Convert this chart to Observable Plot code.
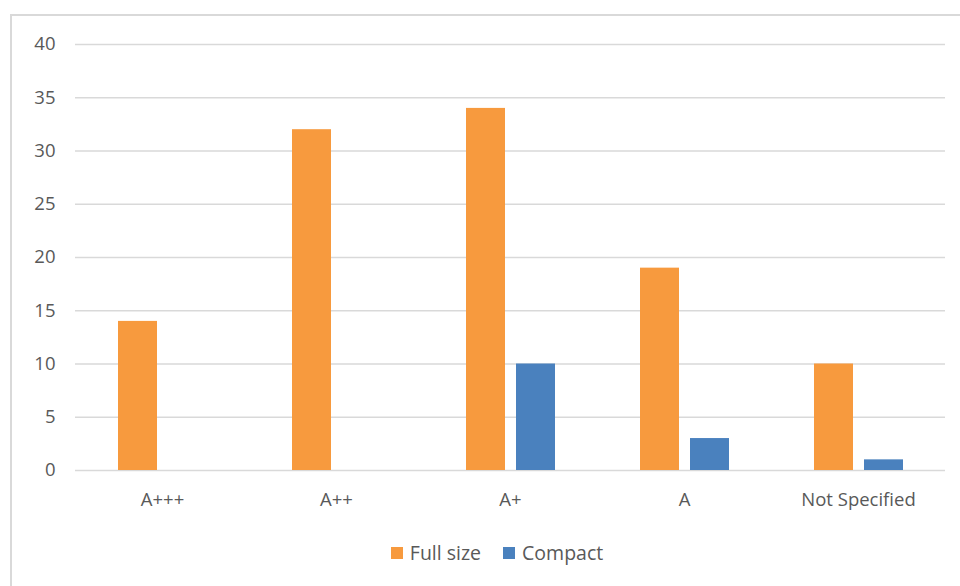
<!DOCTYPE html>
<html>
<head>
<meta charset="utf-8">
<script src="https://cdn.jsdelivr.net/npm/d3@7"></script>
<script src="https://cdn.jsdelivr.net/npm/@observablehq/plot@0.6"></script>
<style>
  html, body { margin: 0; padding: 0; background: #fff; width: 960px; height: 586px; overflow: hidden; }
  #frame { position: absolute; left: 10px; top: 14px; width: 960px; height: 600px; border-left: 2px solid #d9d9d9; border-top: 2px solid #d9d9d9; box-sizing: border-box; pointer-events: none; }
  #chart { position: absolute; left: 0; top: 0; }
  #legend { position: absolute; left: 0; top: 539px; width: 994px; display: flex; justify-content: center; gap: 22px; font-family: "Open Sans", "Noto Sans", sans-serif; font-size: 19.5px; color: #595959; }
  .item { display: flex; align-items: center; gap: 7px; }
  .sw { width: 12px; height: 12px; display: inline-block; }
</style>
</head>
<body>
<div id="chart"></div>
<div id="legend"></div>
<div id="frame"></div>
<script>
const categories = ["A+++", "A++", "A+", "A", "Not Specified"];
const seriesNames = ["Full size", "Compact"];
const fullSize = [14, 32, 34, 19, 10];
const compact = [0, 0, 10, 3, 1];
const colors = ["#F79A3E", "#4A81BE"];
const yTicks = [0, 5, 10, 15, 20, 25, 30, 35, 40];

const data = [];
categories.forEach((c, i) => {
  data.push({category: c, series: seriesNames[0], value: fullSize[i]});
  data.push({category: c, series: seriesNames[1], value: compact[i]});
});

const plot = Plot.plot({
  width: 960,
  height: 525,
  marginLeft: 75,
  marginRight: 15,
  marginTop: 44,
  marginBottom: 55,
  style: {fontFamily: "'Open Sans', 'Noto Sans', sans-serif", fontSize: "18.5px", color: "#595959", background: "transparent"},
  fx: {domain: categories, padding: 0, label: null, tickSize: 0, tickPadding: 22},
  x: {domain: seriesNames, axis: null, paddingInner: 0.22, paddingOuter: 0.85},
  y: {domain: [0, 40], ticks: yTicks, label: null, tickSize: 0, tickPadding: 20},
  color: {domain: seriesNames, range: colors},
  marks: [
    Plot.ruleY(yTicks, {stroke: "#d9d9d9", strokeWidth: 1.3}),
    Plot.barY(data.filter(d => d.value > 0), {fx: "category", x: "series", y: "value", fill: "series"})
  ]
});
document.getElementById("chart").appendChild(plot);

const legend = document.getElementById("legend");
seriesNames.forEach((s, i) => {
  const item = document.createElement("div");
  item.className = "item";
  const sw = document.createElement("span");
  sw.className = "sw";
  sw.style.background = colors[i];
  const t = document.createElement("span");
  t.textContent = s;
  item.appendChild(sw);
  item.appendChild(t);
  legend.appendChild(item);
});
</script>
</body>
</html>
